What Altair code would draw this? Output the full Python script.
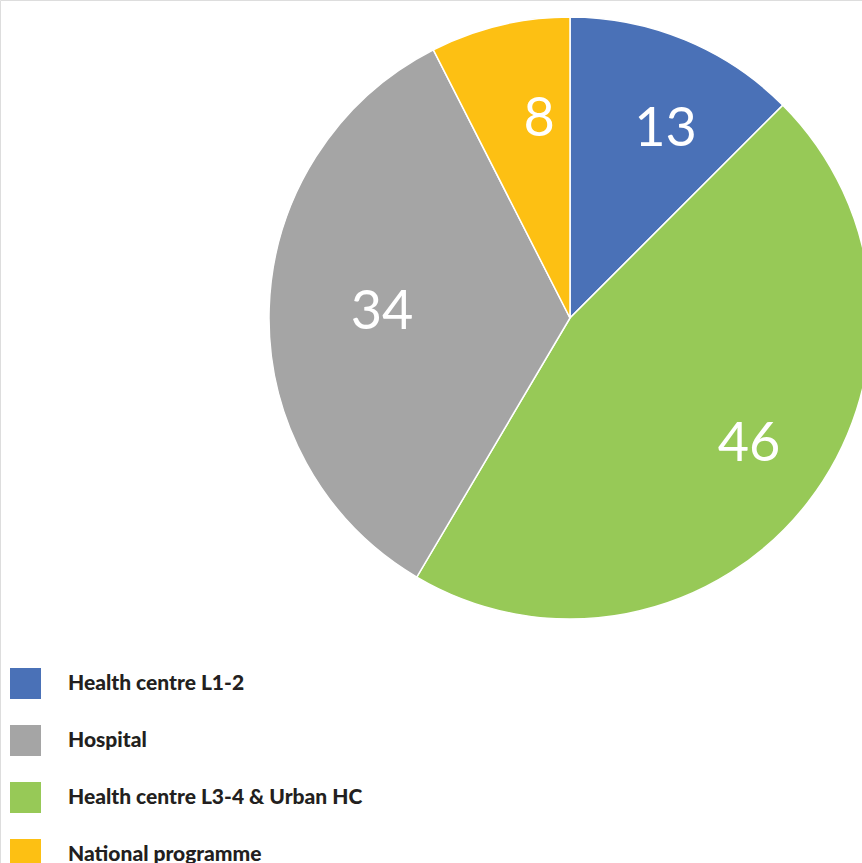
import altair as alt
import pandas as pd

categories = ["Health centre L1-2", "Health centre L3-4 & Urban HC", "Hospital", "National programme"]
shares = [12.5, 46.0, 34.0, 7.5]
labels = ["13", "46", "34", "8"]
slice_order = [0, 1, 2, 3]
legend_order = ["Health centre L1-2", "Hospital", "Health centre L3-4 & Urban HC", "National programme"]
legend_colors = ["#4a71b7", "#a5a5a5", "#97c957", "#fdc013"]

df = pd.DataFrame({"category": categories, "value": shares, "label": labels, "ord": slice_order})

cx, cy = 570, 318

base = alt.Chart(df).encode(
    theta=alt.Theta("value:Q", stack=True),
    order=alt.Order("ord:Q", sort="ascending"),
    x=alt.value(cx),
    y=alt.value(cy),
)

pie = base.mark_arc(outerRadius=301, stroke="white", strokeWidth=1.5).encode(
    color=alt.Color(
        "category:N",
        scale=alt.Scale(domain=legend_order, range=legend_colors),
        legend=alt.Legend(
            title=None,
            orient="none",
            legendX=10,
            legendY=668,
            symbolType="square",
            symbolSize=961,
            symbolStrokeWidth=0,
            symbolOffset=0,
            labelFontSize=21,
            labelFont="Lato",
            labelFontWeight=900,
            labelColor="#231f20",
            labelOffset=27,
            rowPadding=26,
            labelLimit=500,
        ),
    )
)

text = base.mark_text(radius=205, dx=17, dy=1, fontSize=54, font="Lato", fontWeight="normal", color="white").encode(
    text=alt.Text("label:N")
)

chart = (
    alt.layer(pie, text)
    .properties(width=862, height=863, autosize=alt.AutoSizeParams(type="none"), padding=0)
    .configure_view(stroke=None)
    .configure(background="white")
)

chart.save("out.html", embed_options={"renderer": "svg", "actions": False})
